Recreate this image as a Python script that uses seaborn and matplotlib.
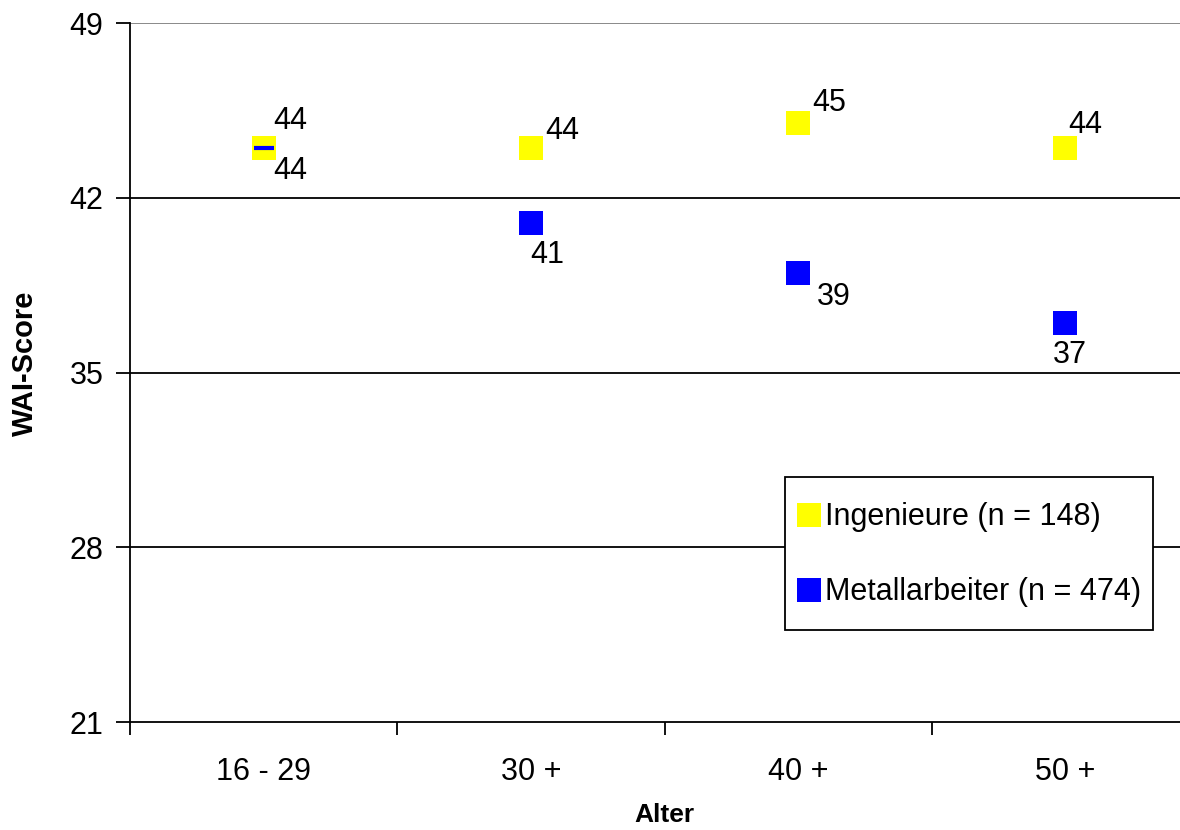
import matplotlib
matplotlib.use("Agg")
import numpy as np
import matplotlib.pyplot as plt
import seaborn as sns
import pandas as pd
from matplotlib.ticker import FixedLocator, NullFormatter, FixedFormatter
from matplotlib.lines import Line2D
from matplotlib.legend_handler import HandlerLine2D

categories = ["16 - 29", "30 +", "40 +", "50 +"]
ingenieure = [44, 44, 45, 44]
metall = [44, 41, 39, 37]
series_names = ["Ingenieure (n = 148)", "Metallarbeiter (n = 474)"]
y_ticks = [21, 28, 35, 42, 49]

# label offsets in pixels (layout only)
ing_off = [(10, 27), (14, 17), (14, 20), (3, 23)]
met_off = [(10, -23), (-1, -32), (19, -24), (-13, -32)]

sns.set_style("white")
plt.rcParams["font.family"] = ["Liberation Sans", "DejaVu Sans"]
plt.rcParams.update({"text.color": "black", "axes.labelcolor": "black",
                     "xtick.color": "black", "ytick.color": "black"})


class CenteredHandler(HandlerLine2D):
    """Keeps the legend square at the height of the text centre."""
    def create_artists(self, legend, orig_handle, xdescent, ydescent, width,
                       height, fontsize, trans):
        arts = super().create_artists(legend, orig_handle, xdescent, ydescent,
                                      width, height, fontsize, trans)
        for a in arts:
            a.set_ydata(np.full_like(np.asarray(a.get_xdata(), float), 0.34 * fontsize))
        return arts


df = pd.DataFrame({
    "Alter": categories * 2,
    "WAI": metall + ingenieure,
    "Gruppe": [series_names[1]] * 4 + [series_names[0]] * 4,
})

fig = plt.figure(figsize=(11.8, 8.3), dpi=100)
ax = fig.add_axes([130 / 1180, 1 - 722 / 830, (1199 - 130) / 1180, (722 - 23) / 830])

colors = {series_names[0]: "#FFFF00", series_names[1]: "#0000FF"}
sns.scatterplot(data=df, x="Alter", y="WAI", hue="Gruppe", palette=colors,
                marker="s", s=300, linewidth=0, ax=ax, legend=False, zorder=3)
# blue dash for Metallarbeiter (visible where hidden behind yellow)
ax.scatter(range(len(categories)), metall, marker="_", s=225, linewidths=3,
           color="#0000FF", zorder=4)

ax.set_xlim(-0.5, 3.5)
ax.set_ylim(21, 49)
ax.set_yticks(y_ticks)
for y in y_ticks[1:]:
    ax.axhline(y, color="#808080" if y == 49 else "black", lw=1.3, zorder=1)

ax.xaxis.set_major_locator(FixedLocator([-0.5, 0.5, 1.5, 2.5, 3.5]))
ax.xaxis.set_major_formatter(NullFormatter())
ax.xaxis.set_minor_locator(FixedLocator(range(len(categories))))
ax.xaxis.set_minor_formatter(FixedFormatter(categories))
ax.tick_params(axis="x", which="major", bottom=True, length=9, width=1.3,
               color="black", direction="out")
ax.tick_params(axis="x", which="minor", bottom=True, length=0, labelsize=22, pad=25)
ax.tick_params(axis="y", left=True, length=10, width=1.3, color="black",
               direction="out", labelsize=22, pad=9)

for s in ["top", "right"]:
    ax.spines[s].set_visible(False)
for s in ["left", "bottom"]:
    ax.spines[s].set_color("black")
    ax.spines[s].set_linewidth(1.3)

ax.set_xlabel("Alter", fontsize=19, fontweight="bold", va="center")
ax.set_ylabel("WAI-Score", fontsize=21, fontweight="bold", va="center")
ax.xaxis.set_label_coords(0.5, (722 - 815) / 699)
ax.yaxis.set_label_coords((25 - 130) / 1069, 1 - (363 - 23) / 699)

for i, v in enumerate(ingenieure):
    ax.annotate(str(v), (i, v), xytext=ing_off[i], textcoords="offset pixels",
                ha="left", va="center", fontsize=22, zorder=5)
for i, v in enumerate(metall):
    ax.annotate(str(v), (i, v), xytext=met_off[i], textcoords="offset pixels",
                ha="left", va="center", fontsize=22, zorder=5)

handles = [Line2D([], [], marker="s", ls="", markersize=17, markerfacecolor=colors[n],
                  markeredgewidth=0) for n in series_names]
leg = ax.legend(handles, series_names, loc="upper left",
                bbox_to_anchor=((785 - 130) / 1069, 1 - (477 - 23) / 699),
                fontsize=22, frameon=True, fancybox=False, edgecolor="black",
                facecolor="white", framealpha=1,
                handler_map={Line2D: CenteredHandler()},
                handlelength=0.8, handleheight=2.32, handletextpad=0.1,
                labelspacing=0.70, borderpad=0.4, borderaxespad=0)
leg.get_frame().set_linewidth(1.3)
leg.set_zorder(6)

fig.savefig("out.png", dpi=100)
